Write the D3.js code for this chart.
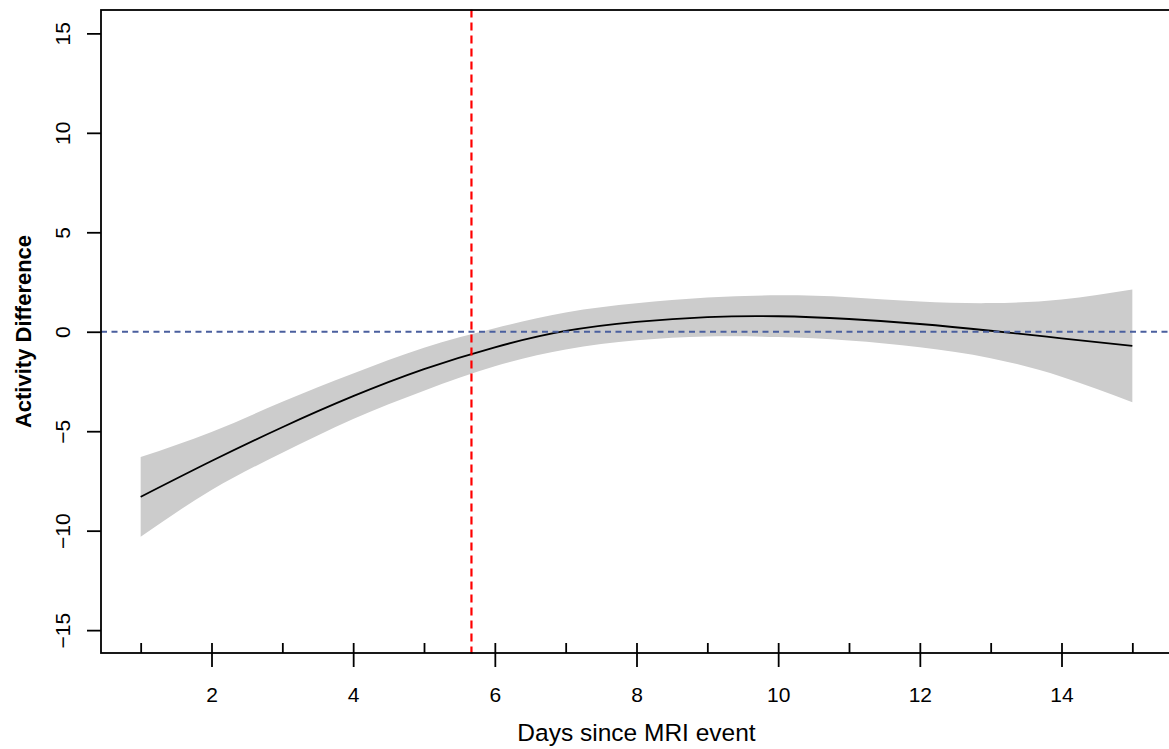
<!DOCTYPE html>
<html>
<head>
<meta charset="utf-8">
<script src="https://cdn.jsdelivr.net/npm/d3@7"></script>
<style>
  html, body { margin: 0; padding: 0; background: #fff; }
  svg text { font-family: "Liberation Sans", Arial, Helvetica, sans-serif; fill: #000; }
</style>
</head>
<body>
<svg id="chart" width="1169" height="749"></svg>
<script>
// Smoothed activity difference by day since the MRI event, with its confidence band
const days  = [1, 2, 3, 4, 5, 6, 7, 8, 9, 10, 11, 12, 13, 14, 15];
const fit   = [-8.30, -6.50, -4.80, -3.24, -1.88, -0.78, 0.04, 0.50, 0.74, 0.78, 0.64, 0.39, 0.05, -0.33, -0.71];
const upper = [-6.30, -5.04, -3.52, -2.10, -0.80, 0.18, 0.97, 1.43, 1.72, 1.83, 1.74, 1.52, 1.44, 1.62, 2.12];
const lower = [-10.30, -7.96, -6.08, -4.38, -2.96, -1.74, -0.89, -0.43, -0.24, -0.27, -0.44, -0.78, -1.33, -2.26, -3.54];

const xMinorTicks = [1, 2, 3, 4, 5, 6, 7, 8, 9, 10, 11, 12, 13, 14, 15];
const xLabelTicks = [2, 4, 6, 8, 10, 12, 14];
const yTicks = [-15, -10, -5, 0, 5, 10, 15];
const eventDay = 5.67;
const refLevel = 0;

const xTitle = "Days since MRI event";
const yTitle = "Activity Difference";

const svg = d3.select("#chart");

// R-style extended ranges (4% padding on each side)
const x = d3.scaleLinear().domain([0.44, 15.56]).range([101, 1172]);
const y = d3.scaleLinear().domain([-16.2, 16.2]).range([654, 9.5]);

const rows = days.map((d, i) => ({ d, fit: fit[i], lo: lower[i], hi: upper[i] }));

// confidence band
svg.append("path")
  .datum(rows)
  .attr("fill", "#cccccc")
  .attr("stroke", "none")
  .attr("d", d3.area()
    .curve(d3.curveNatural)
    .x(r => x(r.d))
    .y0(r => y(r.lo))
    .y1(r => y(r.hi)));

// fitted curve
svg.append("path")
  .datum(rows)
  .attr("fill", "none")
  .attr("stroke", "#000")
  .attr("stroke-width", 1.8)
  .attr("d", d3.line()
    .curve(d3.curveNatural)
    .x(r => x(r.d))
    .y(r => y(r.fit)));

// reference line at zero difference
svg.append("line")
  .attr("x1", x.range()[0]).attr("x2", x.range()[1])
  .attr("y1", y(refLevel)).attr("y2", y(refLevel))
  .attr("stroke", "#4a5f9e")
  .attr("stroke-width", 2)
  .attr("stroke-dasharray", "6,4.5");

// event marker
svg.append("line")
  .attr("x1", x(eventDay)).attr("x2", x(eventDay))
  .attr("y1", y.range()[1]).attr("y2", y.range()[0])
  .attr("stroke", "#ff0000")
  .attr("stroke-width", 2.2)
  .attr("stroke-dasharray", "8,5");

// plot frame
const fx0 = x.range()[0], fx1 = x.range()[1];
const fy0 = y(16.2) + 0.5, fy1 = y(-16.2) - 1;
svg.append("rect")
  .attr("x", fx0).attr("y", fy0)
  .attr("width", fx1 - fx0).attr("height", fy1 - fy0)
  .attr("fill", "none")
  .attr("stroke", "#000")
  .attr("stroke-width", 1.8);

// x axis: inward ticks at every day
const xInner = svg.append("g")
  .attr("transform", `translate(0,${fy1})`)
  .call(d3.axisBottom(x).tickValues(xMinorTicks).tickSize(-10).tickFormat(""));
xInner.select(".domain").remove();
xInner.selectAll("line").attr("stroke", "#000").attr("stroke-width", 1.8);

// x axis: outward labelled ticks
const xOuter = svg.append("g")
  .attr("transform", `translate(0,${fy1})`)
  .call(d3.axisBottom(x).tickValues(xLabelTicks).tickSize(14).tickFormat(d3.format("d")));
xOuter.select(".domain").remove();
xOuter.selectAll("line").attr("stroke", "#000").attr("stroke-width", 1.8);
xOuter.selectAll("text")
  .attr("y", 49).attr("dy", 0)
  .style("font-size", "21px")
  .style("font-family", "'Liberation Sans', Arial, sans-serif")
  .attr("fill", "#000");

// y axis
const yAx = svg.append("g")
  .attr("transform", `translate(${fx0},0)`)
  .call(d3.axisLeft(y).tickValues(yTicks).tickSize(14)
    .tickFormat(d => d < 0 ? "\u2212" + Math.abs(d) : String(d)));
yAx.select(".domain").remove();
yAx.selectAll("line").attr("stroke", "#000").attr("stroke-width", 1.8);
yAx.selectAll("text")
  .attr("x", 0).attr("y", -31).attr("dy", 0)
  .attr("transform", "rotate(-90)")
  .attr("text-anchor", "middle")
  .style("font-size", "21px")
  .style("font-family", "'Liberation Sans', Arial, sans-serif")
  .attr("fill", "#000");

// axis titles
svg.append("text")
  .attr("x", (fx0 + fx1) / 2).attr("y", 741)
  .attr("text-anchor", "middle")
  .style("font-size", "24.5px")
  .text(xTitle);

svg.append("text")
  .attr("transform", `translate(31,${(fy0 + fy1) / 2}) rotate(-90)`)
  .attr("text-anchor", "middle")
  .style("font-size", "22px")
  .style("font-weight", "bold")
  .text(yTitle);
</script>
</body>
</html>
